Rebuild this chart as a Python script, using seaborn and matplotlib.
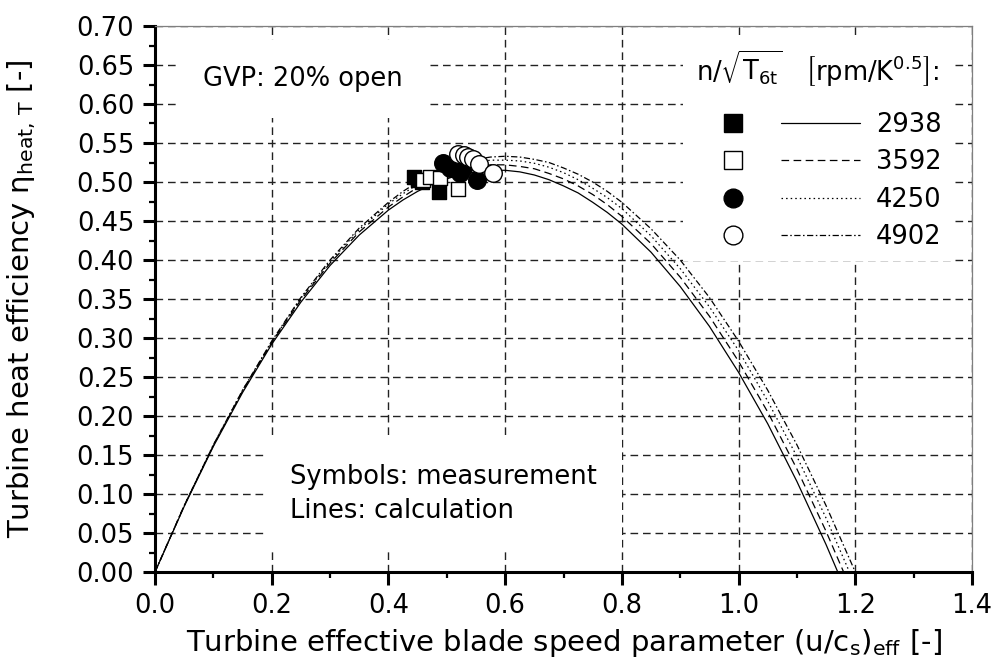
import numpy as np
import pandas as pd
import matplotlib
matplotlib.use('Agg')
import matplotlib.pyplot as plt
import seaborn as sns
from matplotlib.lines import Line2D
from matplotlib.legend_handler import HandlerTuple
from matplotlib.ticker import MultipleLocator, FormatStrFormatter

# reduced speed n/sqrt(T6t) [rpm/K^0.5]
speeds = ['2938', '3592', '4250', '4902']

# measurement (symbols)
meas_x_2938 = [0.443, 0.450, 0.458, 0.487]
meas_y_2938 = [0.507, 0.503, 0.500, 0.487]
meas_x_3592 = [0.460, 0.472, 0.488, 0.519]
meas_y_3592 = [0.503, 0.507, 0.505, 0.491]
meas_x_4250 = [0.493, 0.505, 0.516, 0.528, 0.523, 0.551]
meas_y_4250 = [0.524, 0.518, 0.523, 0.518, 0.512, 0.502]
meas_x_4902 = [0.519, 0.529, 0.537, 0.545, 0.556, 0.579]
meas_y_4902 = [0.536, 0.535, 0.532, 0.530, 0.523, 0.511]

# calculation (lines), read at these u/cs values
calc_x = [0.00, 0.05, 0.10, 0.15, 0.20, 0.25, 0.30, 0.35, 0.40,
          0.425, 0.45, 0.475, 0.50, 0.525, 0.55, 0.575, 0.60,
          0.625, 0.65, 0.675, 0.70, 0.725, 0.75, 0.775, 0.80,
          0.85, 0.90, 0.95, 1.00, 1.05, 1.10, 1.15]
calc_end = [1.170, 1.180, 1.190, 1.200]
calc_2938 = [0.000, 0.084, 0.161, 0.230, 0.292, 0.346, 0.393, 0.432, 0.464,
             0.477, 0.488, 0.497, 0.504, 0.510, 0.513, 0.515, 0.515,
             0.513, 0.509, 0.503, 0.495, 0.486, 0.474, 0.461, 0.446,
             0.410, 0.366, 0.315, 0.256, 0.190, 0.116, 0.035, 0.000]
calc_3592 = [0.000, 0.085, 0.162, 0.232, 0.294, 0.349, 0.396, 0.436, 0.468,
             0.481, 0.493, 0.502, 0.510, 0.516, 0.520, 0.522, 0.522,
             0.520, 0.517, 0.511, 0.504, 0.495, 0.484, 0.471, 0.456,
             0.421, 0.378, 0.328, 0.270, 0.205, 0.132, 0.052, 0.000]
calc_4250 = [0.000, 0.085, 0.163, 0.233, 0.295, 0.351, 0.398, 0.439, 0.472,
             0.485, 0.497, 0.507, 0.515, 0.521, 0.525, 0.528, 0.528,
             0.527, 0.524, 0.519, 0.512, 0.503, 0.492, 0.480, 0.466,
             0.431, 0.389, 0.340, 0.284, 0.219, 0.148, 0.069, 0.000]
calc_4902 = [0.000, 0.085, 0.163, 0.233, 0.296, 0.352, 0.400, 0.441, 0.474,
             0.488, 0.500, 0.510, 0.518, 0.525, 0.529, 0.532, 0.533,
             0.532, 0.529, 0.525, 0.518, 0.510, 0.500, 0.488, 0.474,
             0.440, 0.400, 0.352, 0.296, 0.233, 0.163, 0.085, 0.000]

sns.set_style('ticks')
plt.rcParams['font.family'] = ['DejaVu Sans']
plt.rcParams['mathtext.fontset'] = 'dejavusans'
plt.rcParams['lines.scale_dashes'] = False
plt.rcParams['text.color'] = 'black'
plt.rcParams['axes.labelcolor'] = 'black'
FS = 18.5
FL = 21

fig = plt.figure(figsize=(9.98, 6.67), dpi=100)
ax = fig.add_axes([155 / 998, 95 / 667, 817 / 998, 546 / 667])

# lines
styles = ['-', (0, (5.5, 3.2)), (0, (1.1, 2.2)), (0, (4.5, 1.8, 1.1, 1.8))]
curves = [calc_2938, calc_3592, calc_4250, calc_4902]
line_handles = []
for ys, xe, st in zip(curves, calc_end, styles):
    sns.lineplot(x=calc_x + [xe], y=ys, color='black', lw=0.9, sort=False, ax=ax, zorder=3)
    ln = ax.lines[-1]
    ln.set_linestyle(st)
    line_handles.append(ln)

# symbols
meas = [(meas_x_2938, meas_y_2938, 's', 'black', 115),
        (meas_x_3592, meas_y_3592, 's', 'white', 115),
        (meas_x_4250, meas_y_4250, 'o', 'black', 160),
        (meas_x_4902, meas_y_4902, 'o', 'white', 160)]
mk_handles = []
for mx, my, m, fc, s in meas:
    sns.scatterplot(x=mx, y=my, marker=m, s=s, color=fc, edgecolor='black',
                    linewidth=1.0, ax=ax, zorder=4)
    mk_handles.append(Line2D([], [], ls='none', marker=m, ms=12.5 if m == 's' else 13.5,
                             mfc=fc, mec='black', mew=1.0))

ax.set_xlim(0, 1.4)
ax.set_ylim(0, 0.70)
ax.xaxis.set_major_locator(MultipleLocator(0.2))
ax.xaxis.set_minor_locator(MultipleLocator(0.1))
ax.yaxis.set_major_locator(MultipleLocator(0.05))
ax.yaxis.set_minor_locator(MultipleLocator(0.025))
ax.xaxis.set_major_formatter(FormatStrFormatter('%.1f'))
ax.yaxis.set_major_formatter(FormatStrFormatter('%.2f'))

ax.grid(True, which='major', color='#222222', lw=1.0, ls=(0, (5.5, 3.5)))
ax.grid(False, which='minor')
ax.set_axisbelow(True)
xt = ax.xaxis.get_major_ticks()
yt = ax.yaxis.get_major_ticks()
xt[-1].gridline.set_visible(False)
yt[-1].gridline.set_visible(False)

for s in ['left', 'bottom']:
    ax.spines[s].set_linewidth(2.2)
    ax.spines[s].set_color('black')
for s in ['top', 'right']:
    ax.spines[s].set_visible(True)
    ax.spines[s].set_linewidth(0.9)
    ax.spines[s].set_color('#7f7f7f')

ax.tick_params(which='major', direction='out', length=9, width=2.2, labelsize=FS,
               pad=6, colors='black')
ax.tick_params(which='minor', direction='out', length=4.5, width=1.6, colors='black')
ax.tick_params(which='both', top=False, right=False)

ax.set_xlabel(r'Turbine effective blade speed parameter (u/c$_\mathrm{s}$)$_\mathrm{eff}$ [-]',
              fontsize=FL)
ax.set_ylabel(r'Turbine heat efficiency η$_\mathrm{heat,\,T}$ [-]', fontsize=FL)
ax.xaxis.set_label_coords(0.5, -0.100)
ax.yaxis.set_label_coords(-0.143, 0.5)

box = dict(boxstyle='square,pad=1.0', fc='white', ec='none')
ax.text(0.082, 0.632, 'GVP: 20% open', fontsize=FS, ha='left', va='center', zorder=5, bbox=box)
ax.text(0.231, 0.10, 'Symbols: measurement\nLines: calculation', fontsize=FS, ha='left',
        va='center', linespacing=1.45, zorder=5, bbox=box)

leg = ax.legend(list(zip(mk_handles, line_handles)), speeds,
                handler_map={tuple: HandlerTuple(ndivide=None, pad=0.31)},
                title=r'$\mathrm{n}/\sqrt{\mathrm{T}_{\mathrm{6t}}}\ \ \ \left[\mathrm{rpm}/\mathrm{K}^{0.5}\right]$:',
                title_fontsize=FS, fontsize=FS, loc='upper right',
                bbox_to_anchor=(0.975, 0.977), borderaxespad=0, handlelength=6.5,
                handletextpad=0.6, labelspacing=0.45, borderpad=0.4,
                frameon=True, fancybox=False, framealpha=1, facecolor='white', edgecolor='none')
leg._legend_box.sep = 0.45 * FS + 8
leg.set_zorder(6)

fig.savefig('out.png', dpi=100, facecolor='white')
